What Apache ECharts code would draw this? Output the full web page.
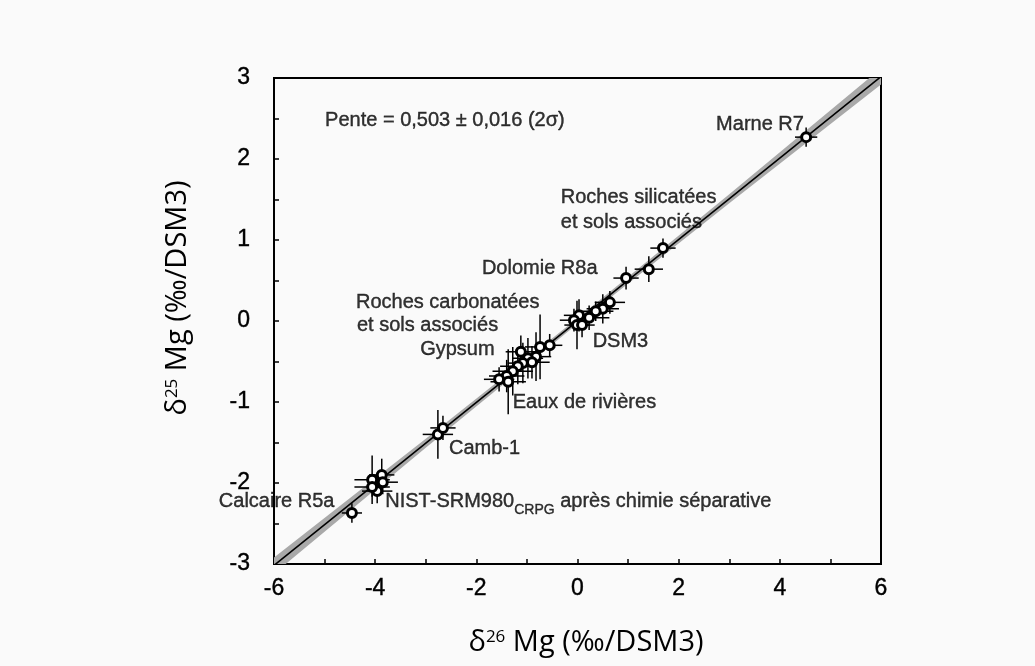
<!DOCTYPE html>
<html>
<head>
<meta charset="utf-8">
<script src="https://cdn.jsdelivr.net/npm/echarts@6/dist/echarts.min.js"></script>
<style>html,body{margin:0;padding:0;background:#fafafa;}#c{width:1035px;height:666px;}</style>
</head>
<body>
<div id="c"></div>
<script>
// ---- data (δ26Mg, δ25Mg, ‰/DSM3) ----
const d26 = [4.52, 1.69, 1.41, 0.96, 0.64, 0.50, 0.36, 0.23, 0.03, -0.07, -0.01, 0.09,
  -0.55, -0.74, -0.82, -0.98, -0.90, -1.08, -1.12, -1.18, -1.28, -1.40, -1.55, -1.37,
  -2.76, -2.66, -4.06, -3.87, -3.85, -3.96, -4.06, -4.46];
const d25 = [2.27, 0.90, 0.64, 0.53, 0.23, 0.15, 0.12, 0.04, 0.07, 0.01, -0.05, -0.05,
  -0.30, -0.32, -0.44, -0.46, -0.51, -0.52, -0.38, -0.56, -0.62, -0.68, -0.72, -0.75,
  -1.40, -1.32, -1.96, -1.90, -1.99, -2.10, -2.05, -2.37];
const err26 = [0.22, 0.25, 0.28, 0.25, 0.30, 0.32, 0.35, 0.40, 0.30, 0.28, 0.25, 0.25,
  0.25, 0.30, 0.30, 0.30, 0.35, 0.30, 0.30, 0.35, 0.40, 0.35, 0.30, 0.35,
  0.30, 0.25, 0.35, 0.25, 0.30, 0.30, 0.35, 0.20];
const err25 = [0.12, 0.12, 0.16, 0.14, 0.14, 0.18, 0.12, 0.15, 0.20, 0.14, 0.30, 0.15,
  0.14, 0.40, 0.30, 0.25, 0.20, 0.25, 0.20, 0.22, 0.30, 0.20, 0.15, 0.40,
  0.30, 0.15, 0.30, 0.20, 0.15, 0.15, 0.12, 0.12];
// regression line (slope 0.503) and its 2σ envelope
const fitX = [-6, 6];
const fitY = [-3.018, 3.018];
const bandX = [-6, -3, 0, 3, 6];
const bandUpper = [-2.92, -1.455, 0.035, 1.565, 3.12];
const bandLower = [-3.12, -1.565, -0.035, 1.455, 2.92];
// annotations
const annotText = ['Pente = 0,503 ± 0,016 (2σ)', 'Marne R7', 'Roches silicatées', 'et sols associés',
  'Dolomie R8a', 'Roches carbonatées', 'et sols associés', 'Gypsum', 'DSM3', 'Eaux de rivières',
  'Camb-1', 'Calcaire R5a', '{a|NIST-SRM980}{sub|CRPG}{a| après chimie séparative}'];
const annotX = [-4.99, 2.74, -0.33, -0.33, -1.89, -4.38, -4.36, -3.11, 0.30, -1.28, -2.54, -7.09, -3.80];
const annotY = [2.47, 2.43, 1.52, 1.22, 0.65, 0.23, -0.06, -0.35, -0.25, -1.00, -1.57, -2.23, -2.23];
const xTicks = {min: -6, max: 6, interval: 2};
const yTicks = {min: -3, max: 3, interval: 1};

const pts = d26.map((x, i) => [x, d25[i], err26[i], err25[i]]);
const bandData = bandX.map((x, i) => [x, bandUpper[i], bandLower[i]]);
const annData = annotText.map((t, i) => [annotX[i], annotY[i], t]);

const chart = echarts.init(document.getElementById('c'));
const FONT = '"Liberation Sans", Arial, sans-serif';
const TFONT = '"Open Sans", sans-serif';
const thick = {textBorderColor: '#000', textBorderWidth: 0.4};
chart.setOption({
  backgroundColor: '#fafafa',
  animation: false,
  grid: {left: 274, right: 154, top: 78, bottom: 102, show: true, borderColor: '#000', borderWidth: 2, backgroundColor: 'transparent'},
  xAxis: {
    type: 'value', min: xTicks.min, max: xTicks.max, interval: xTicks.interval,
    axisLine: {onZero: false, lineStyle: {color: '#000', width: 2}},
    axisTick: {inside: true, length: 5, lineStyle: {color: '#000', width: 1.5}},
    minorTick: {show: true, splitNumber: 2, length: 5, lineStyle: {color: '#000', width: 1.5}},
    splitLine: {show: false},
    axisLabel: Object.assign({color: '#000', fontSize: 23, fontFamily: FONT, margin: 13}, thick)
  },
  yAxis: {
    type: 'value', min: yTicks.min, max: yTicks.max, interval: yTicks.interval,
    axisLine: {onZero: false, lineStyle: {color: '#000', width: 2}},
    axisTick: {inside: true, length: 5, lineStyle: {color: '#000', width: 1.5}},
    minorTick: {show: true, splitNumber: 2, length: 5, lineStyle: {color: '#000', width: 1.5}},
    splitLine: {show: false},
    axisLabel: Object.assign({color: '#000', fontSize: 23, fontFamily: FONT, margin: 24}, thick)
  },
  graphic: [
    {type: 'text', x: 586, y: 643, style: {
      text: '{d|δ}{s|26}{d| Mg (‰/DSM3)}', align: 'center', verticalAlign: 'middle',
      rich: {d: {fontSize: 29, fontFamily: TFONT, fill: '#000'},
             s: {fontSize: 17, fontFamily: TFONT, fill: '#000', padding: [0, 0, 12, 0]}}}},
    {type: 'text', x: 178, y: 298, rotation: Math.PI / 2, style: {
      text: '{d|δ}{s|25}{d| Mg (‰/DSM3)}', align: 'center', verticalAlign: 'middle',
      rich: {d: {fontSize: 29, fontFamily: TFONT, fill: '#000'},
             s: {fontSize: 17, fontFamily: TFONT, fill: '#000', padding: [0, 0, 12, 0]}}}}
  ],
  series: [
    {
      type: 'custom', name: 'band', z: 1, data: bandData,
      renderItem: function (params, api) {
        if (params.dataIndex !== 0) return null;
        const poly = [];
        bandData.forEach(p => poly.push(api.coord([p[0], p[1]])));
        for (let i = bandData.length - 1; i >= 0; i--) poly.push(api.coord([bandData[i][0], bandData[i][2]]));
        const cs = params.coordSys;
        return {type: 'polygon', shape: {points: poly}, style: {fill: '#a9a9a9'},
          clipPath: {type: 'rect', shape: {x: cs.x, y: cs.y, width: cs.width, height: cs.height}}};
      }
    },
    {
      type: 'line', name: 'fit', z: 2, data: fitX.map((x, i) => [x, fitY[i]]), showSymbol: false,
      clip: true, lineStyle: {color: '#000', width: 1.5}
    },
    {
      type: 'custom', name: 'errors', z: 3, data: pts,
      renderItem: function (params, api) {
        const x = api.value(0), y = api.value(1), ex = api.value(2), ey = api.value(3);
        const l = api.coord([x - ex, y]), r = api.coord([x + ex, y]);
        const t = api.coord([x, y + ey]), b = api.coord([x, y - ey]);
        const st = {stroke: '#000', lineWidth: 1.5};
        return {type: 'group', children: [
          {type: 'line', shape: {x1: l[0], y1: l[1], x2: r[0], y2: r[1]}, style: st},
          {type: 'line', shape: {x1: t[0], y1: t[1], x2: b[0], y2: b[1]}, style: st}
        ]};
      }
    },
    {
      type: 'scatter', name: 'points', z: 4, data: pts.map(p => [p[0], p[1]]),
      symbol: 'circle', symbolSize: 9,
      itemStyle: {color: '#fff', borderColor: '#000', borderWidth: 3, opacity: 1}
    },
    {
      type: 'scatter', name: 'labels', z: 5, data: annData, symbolSize: 0, clip: false, silent: true,
      label: Object.assign({show: true, position: [0, 0], align: 'left', verticalAlign: 'middle',
        formatter: p => p.data[2], color: '#000', fontSize: 20, fontFamily: FONT,
        rich: {a: Object.assign({fontSize: 20, fontFamily: FONT, color: '#000'}, thick),
               sub: Object.assign({fontSize: 14, fontFamily: FONT, color: '#000', padding: [18, 0, 0, 0]}, thick)}}, thick)
    }
  ]
});
</script>
</body>
</html>
